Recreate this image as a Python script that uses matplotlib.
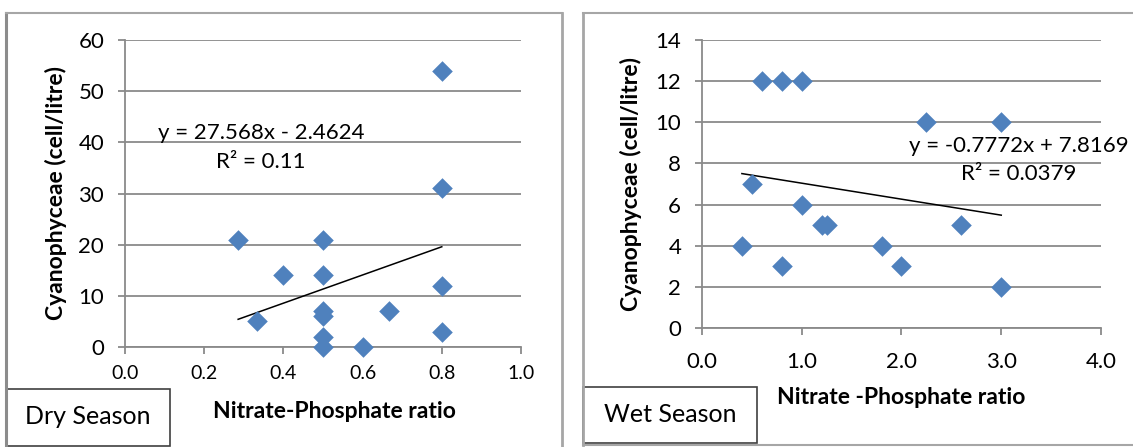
import matplotlib.pyplot as plt
from matplotlib.lines import Line2D
from matplotlib.patches import Rectangle
import numpy as np

plt.rcParams['font.family'] = ['Lato', 'DejaVu Sans']

# dry season data
dry_ratio = [0.2857, 0.3333, 0.4, 0.5, 0.5, 0.5, 0.5, 0.5, 0.5, 0.6, 0.6667, 0.8, 0.8, 0.8, 0.8]
dry_cyano = [21, 5, 14, 21, 14, 7, 6, 2, 0, 0, 7, 54, 31, 12, 3]
dry_fit = (27.568, -2.4624)
dry_r2 = '0.11'

# wet season data
wet_ratio = [0.4, 0.5, 0.6, 0.8, 0.8, 1.0, 1.0, 1.2, 1.25, 1.8, 2.0, 2.25, 2.6, 3.0, 3.0]
wet_cyano = [4, 7, 12, 12, 3, 12, 6, 5, 5, 4, 3, 10, 5, 10, 2]
wet_fit = (-0.7772, 7.8169)
wet_r2 = '0.0379'

W, H = 1133, 447
fig = plt.figure(figsize=(W / 100, H / 100), dpi=100)

blue = '#4F81BD'
grid = '#8A8A8A'
border = '#A6A6A6'


def px(x0, y0, x1, y1):
    # pixel box (top-left origin) -> figure fraction rect
    return [x0 / W, 1 - y1 / H, (x1 - x0) / W, (y1 - y0) / H]


def panel(rect, x, y, fit, r2, xlim, xticks, ylim, yticks, xlabel, fs_x, pad_x, eq_pos, sign):
    ax = fig.add_axes(rect)
    ax.scatter(x, y, marker='D', s=110, color=blue, zorder=3, linewidths=0, clip_on=False)
    xs = np.array([min(x), max(x)])
    ax.plot(xs, fit[0] * xs + fit[1], color='black', lw=1.1, zorder=2)
    ax.set_xlim(*xlim)
    ax.set_ylim(*ylim)
    ax.set_xticks(xticks)
    ax.set_xticklabels([f'{t:.1f}' for t in xticks])
    ax.set_yticks(yticks)
    ax.yaxis.grid(True, color=grid, lw=1.3)
    ax.set_axisbelow(True)
    for s in ['top', 'right']:
        ax.spines[s].set_visible(False)
    for s in ['left', 'bottom']:
        ax.spines[s].set_color(grid)
        ax.spines[s].set_linewidth(1.3)
    ax.tick_params(axis='y', length=5, width=1.3, color=grid, pad=10, labelsize=16)
    ax.tick_params(axis='x', length=5, width=1.3, color=grid, pad=pad_x, labelsize=fs_x)
    ax.set_ylabel('Cyanophyceae (cell/litre)', fontsize=16.5, fontweight='bold')
    ax.set_xlabel(xlabel, fontsize=16.5, fontweight='bold')
    b = fit[1]
    eq = f'y = {fit[0]}x {sign} {abs(b)}'
    ax.text(eq_pos[0], eq_pos[1], eq + '\n' + f'R² = {r2}', transform=ax.transAxes,
            ha='center', va='center', fontsize=16, linespacing=1.55)
    return ax


ax1 = panel(px(125, 40, 521, 347), dry_ratio, dry_cyano, dry_fit, dry_r2,
            (0, 1.0), [0.0, 0.2, 0.4, 0.6, 0.8, 1.0], (0, 60), range(0, 61, 10),
            'Nitrate-Phosphate ratio', 14, 8, (0.343, 0.651), '-')
ax1.yaxis.set_label_coords(-0.175, 0.5)
ax1.yaxis.label.set_va('center')
ax1.xaxis.set_label_coords(0.53, -0.21)
ax1.xaxis.label.set_va('center')

ax2 = panel(px(702, 40, 1101, 328), wet_ratio, wet_cyano, wet_fit, wet_r2,
            (0, 4.0), [0.0, 1.0, 2.0, 3.0, 4.0], (0, 14), range(0, 15, 2),
            'Nitrate -Phosphate ratio', 16, 12, (0.794, 0.583), '+')
ax2.yaxis.set_label_coords(-0.178, 0.5)
ax2.yaxis.label.set_va('center')
ax2.xaxis.set_label_coords(0.5, -0.243)
ax2.xaxis.label.set_va('center')


# panel frames
def line(xs, ys, lw=1.5, color=border):
    fig.add_artist(Line2D([v / W for v in xs], [1 - v / H for v in ys], color=color, lw=lw))


line([6, 6], [13, 447], lw=2.2, color='#8C8C8C')
line([6, 562], [13, 13])
line([562, 562], [13, 447], lw=2.0)
line([583, 583], [13, 445], lw=2.0)
line([583, 1133], [13, 13])
line([583, 1133], [445, 445])

# season boxes
fig.add_artist(Rectangle((6 / W, 1 - 446 / H), 164 / W, 57 / H, transform=fig.transFigure,
                         fill=False, edgecolor='#404040', lw=1.2))
fig.text(88 / W, 1 - 417 / H, 'Dry Season', ha='center', va='center', fontsize=18)
fig.add_artist(Rectangle((583 / W, 1 - 443 / H), 174 / W, 56 / H, transform=fig.transFigure,
                         fill=False, edgecolor='#404040', lw=1.2))
fig.text(670 / W, 1 - 415 / H, 'Wet Season', ha='center', va='center', fontsize=18)

fig.savefig('out.png', dpi=100)
